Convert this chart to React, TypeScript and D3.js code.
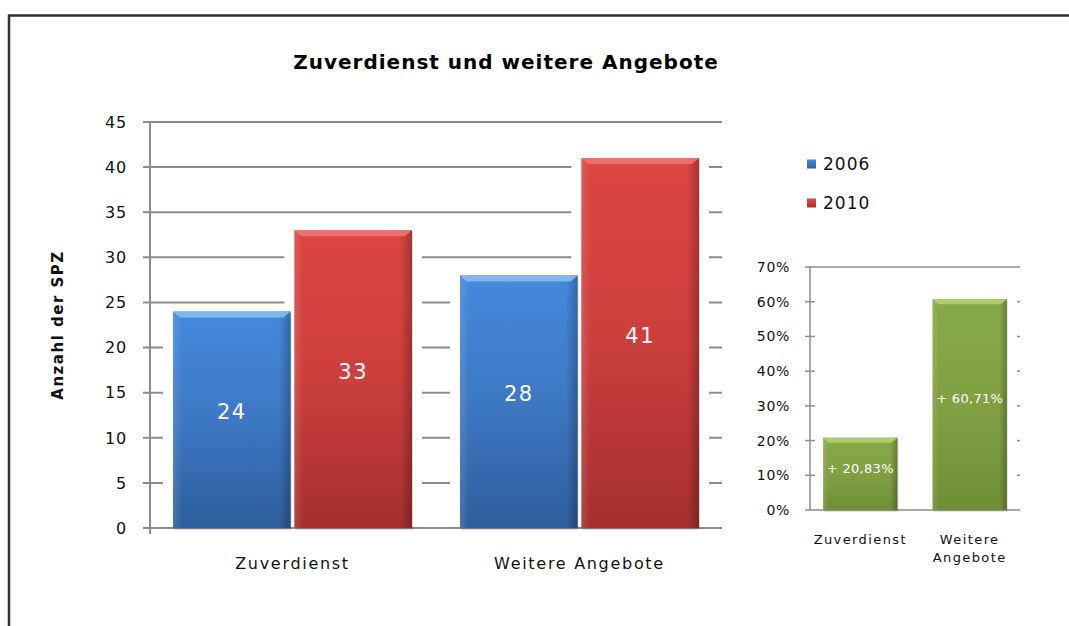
import React from 'react';
import * as d3 from 'd3';

const categories = ['Zuverdienst', 'Weitere Angebote'];
const series = ['2006', '2010'];
const values2006 = [24, 28];
const values2010 = [33, 41];
const yTicks = [0, 5, 10, 15, 20, 25, 30, 35, 40, 45];

const growthCategories = [['Zuverdienst'], ['Weitere', 'Angebote']];
const growth = [0.2083, 0.6071];
const growthLabels = ['+ 20,83%', '+ 60,71%'];
const growthTicks = [0, 0.1, 0.2, 0.3, 0.4, 0.5, 0.6, 0.7];

const W = 1069;
const H = 626;
const FONT = '"DejaVu Sans", Verdana, sans-serif';

const App: React.FC = () => {
  // main chart
  const left = 150, right = 722, top = 122, bottom = 528;
  const x0 = d3.scaleBand<string>().domain(categories).range([left, right]).paddingInner(0.167).paddingOuter(0.08);
  const x1 = d3.scaleBand<string>().domain(series).range([0, x0.bandwidth()]).paddingInner(0.03);
  const y = d3.scaleLinear().domain([0, 45]).range([bottom, top]);
  const vals: Record<string, number[]> = { '2006': values2006, '2010': values2010 };
  const bars = categories.flatMap((c, i) =>
    series.map(s => ({ cat: c, s, v: vals[s][i], x: (x0(c) ?? 0) + (x1(s) ?? 0), w: x1.bandwidth() }))
  );

  // small chart
  const sl = 810, sr = 1020, st = 267, sb = 510;
  const sx = d3.scaleBand<number>().domain(d3.range(growth.length)).range([sl, sr]).paddingInner(0.32).paddingOuter(0.12);
  const sy = d3.scaleLinear().domain([0, 0.7]).range([sb, st]);
  const pct = d3.format('.0%');

  const grad = (id: string, light: string, mid: string, dark: string) => (
    <linearGradient id={id} x1="0" y1="0" x2="0" y2="1">
      <stop offset="0" stopColor={light} />
      <stop offset="0.5" stopColor={mid} />
      <stop offset="1" stopColor={dark} />
    </linearGradient>
  );

  const fills: Record<string, string> = { '2006': 'url(#gBlue)', '2010': 'url(#gRed)' };
  const bevels: Record<string, string> = { '2006': '#8ec3f2', '2010': '#f07a76' };

  return (
    <svg width={W} height={H} style={{ position: 'absolute', left: 0, top: 0, background: '#fff' }}>
      <defs>
        {grad('gBlue', '#4589dc', '#3d78c4', '#2f5e9c')}
        {grad('gRed', '#dc4542', '#cc3f3d', '#a52f2f')}
        {grad('gGreen', '#87aa48', '#80a042', '#6f8f37')}
        <linearGradient id="sideShade" x1="0" y1="0" x2="1" y2="0">
          <stop offset="0" stopColor="#fff" stopOpacity="0.12" />
          <stop offset="0.08" stopColor="#fff" stopOpacity="0" />
          <stop offset="0.9" stopColor="#000" stopOpacity="0" />
          <stop offset="1" stopColor="#000" stopOpacity="0.25" />
        </linearGradient>
      </defs>

      {/* frame */}
      <line x1={9} x2={9} y1={15} y2={H} stroke="#333" strokeWidth={2.5} />
      <line x1={8} x2={W} y1={15.5} y2={15.5} stroke="#333" strokeWidth={2.5} />

      <text x={506} y={69} textAnchor="middle" fontFamily={FONT} fontWeight="bold" fontSize={20} letterSpacing={1}>
        Zuverdienst und weitere Angebote
      </text>

      {/* gridlines + ticks */}
      {yTicks.map(t => (
        <g key={t}>
          <line x1={left - 7} x2={right} y1={y(t)} y2={y(t)} stroke="#8c8c8c" strokeWidth={2} />
          <text x={127} y={y(t)} dy="0.36em" textAnchor="end" fontFamily={FONT} fontSize={16} letterSpacing={0.8} fill="#111">{t}</text>
        </g>
      ))}
      <line x1={left} x2={left} y1={top} y2={bottom + 6} stroke="#8c8c8c" strokeWidth={2} />

      {/* halos behind bars */}
      {bars.map((b, i) => (
        <rect key={'h' + i} x={b.x - 10} y={y(b.v) - 2} width={b.w + 20} height={bottom - y(b.v) + 1} fill="#fff" />
      ))}
      <line x1={left} x2={right} y1={bottom} y2={bottom} stroke="#8c8c8c" strokeWidth={2} />

      {bars.map((b, i) => {
        const yt = y(b.v);
        const h = bottom - yt;
        return (
          <g key={'b' + i}>
            <rect x={b.x + 1} y={yt + 2} width={b.w} height={h} fill="#000" opacity={0.12} />
            <rect x={b.x} y={yt} width={b.w} height={h} fill={fills[b.s]} />
            <rect x={b.x} y={yt} width={b.w} height={h} fill="url(#sideShade)" />
            <polygon points={`${b.x},${yt} ${b.x + b.w},${yt} ${b.x + b.w - 7},${yt + 6} ${b.x + 7},${yt + 6}`} fill={bevels[b.s]} opacity={0.8} />
            <text x={b.x + b.w / 2} y={yt + h / 2 - 8} dy="0.36em" textAnchor="middle" fontFamily={FONT} fontSize={21} letterSpacing={1.5} fill="#fff">
              {b.v}
            </text>
          </g>
        );
      })}

      {categories.map(c => (
        <text key={c} x={(x0(c) ?? 0) + x0.bandwidth() / 2} y={569} textAnchor="middle" fontFamily={FONT} fontSize={16} letterSpacing={1.7} fill="#111">
          {c}
        </text>
      ))}

      <text transform="translate(63,325) rotate(-90)" textAnchor="middle" fontFamily={FONT} fontWeight="bold" fontSize={15} letterSpacing={1.5} fill="#111">
        Anzahl  der SPZ
      </text>

      {/* legend */}
      {series.map((s, i) => (
        <g key={s} transform={`translate(807,${164 + i * 39})`}>
          <rect x={0} y={-4.5} width={9} height={9} fill={fills[s]} />
          <text x={16} y={0} dy="0.36em" fontFamily={FONT} fontSize={17} letterSpacing={1} fill="#111">{s}</text>
        </g>
      ))}

      {/* small chart */}
      {growthTicks.map(t => (
        <g key={t}>
          <line x1={sl - 5} x2={t === 0 || t === 0.7 ? sr : sl + 5} y1={sy(t)} y2={sy(t)} stroke="#8c8c8c" strokeWidth={1.5} />
          {t > 0 && t < 0.7 && <line x1={sr - 3} x2={sr} y1={sy(t)} y2={sy(t)} stroke="#8c8c8c" strokeWidth={1.5} />}
          <text x={790} y={sy(t)} dy="0.36em" textAnchor="end" fontFamily={FONT} fontSize={14} letterSpacing={0.7} fill="#111">{pct(t)}</text>
        </g>
      ))}
      <line x1={sl} x2={sl} y1={st} y2={sb} stroke="#8c8c8c" strokeWidth={1.5} />

      {growth.map((g, i) => {
        const bx = sx(i) ?? 0;
        const bw = sx.bandwidth();
        const yt = sy(g);
        const h = sb - yt;
        return (
          <g key={'g' + i}>
            <rect x={bx + 1} y={yt + 2} width={bw} height={h} fill="#000" opacity={0.12} />
            <rect x={bx} y={yt} width={bw} height={h} fill="url(#gGreen)" />
            <rect x={bx} y={yt} width={bw} height={h} fill="url(#sideShade)" />
            <polygon points={`${bx},${yt} ${bx + bw},${yt} ${bx + bw - 6},${yt + 5} ${bx + 6},${yt + 5}`} fill="#b3d16f" opacity={0.9} />
            <text x={bx + bw / 2} y={yt + h / 2 - 6} dy="0.36em" textAnchor="middle" fontFamily={FONT} fontSize={13} letterSpacing={0.3} fill="#fff">
              {growthLabels[i]}
            </text>
            {growthCategories[i].map((line, j) => (
              <text key={j} x={bx + bw / 2} y={544 + j * 18} textAnchor="middle" fontFamily={FONT} fontSize={13} letterSpacing={1.4} fill="#111">
                {line}
              </text>
            ))}
          </g>
        );
      })}
    </svg>
  );
};

export default App;
